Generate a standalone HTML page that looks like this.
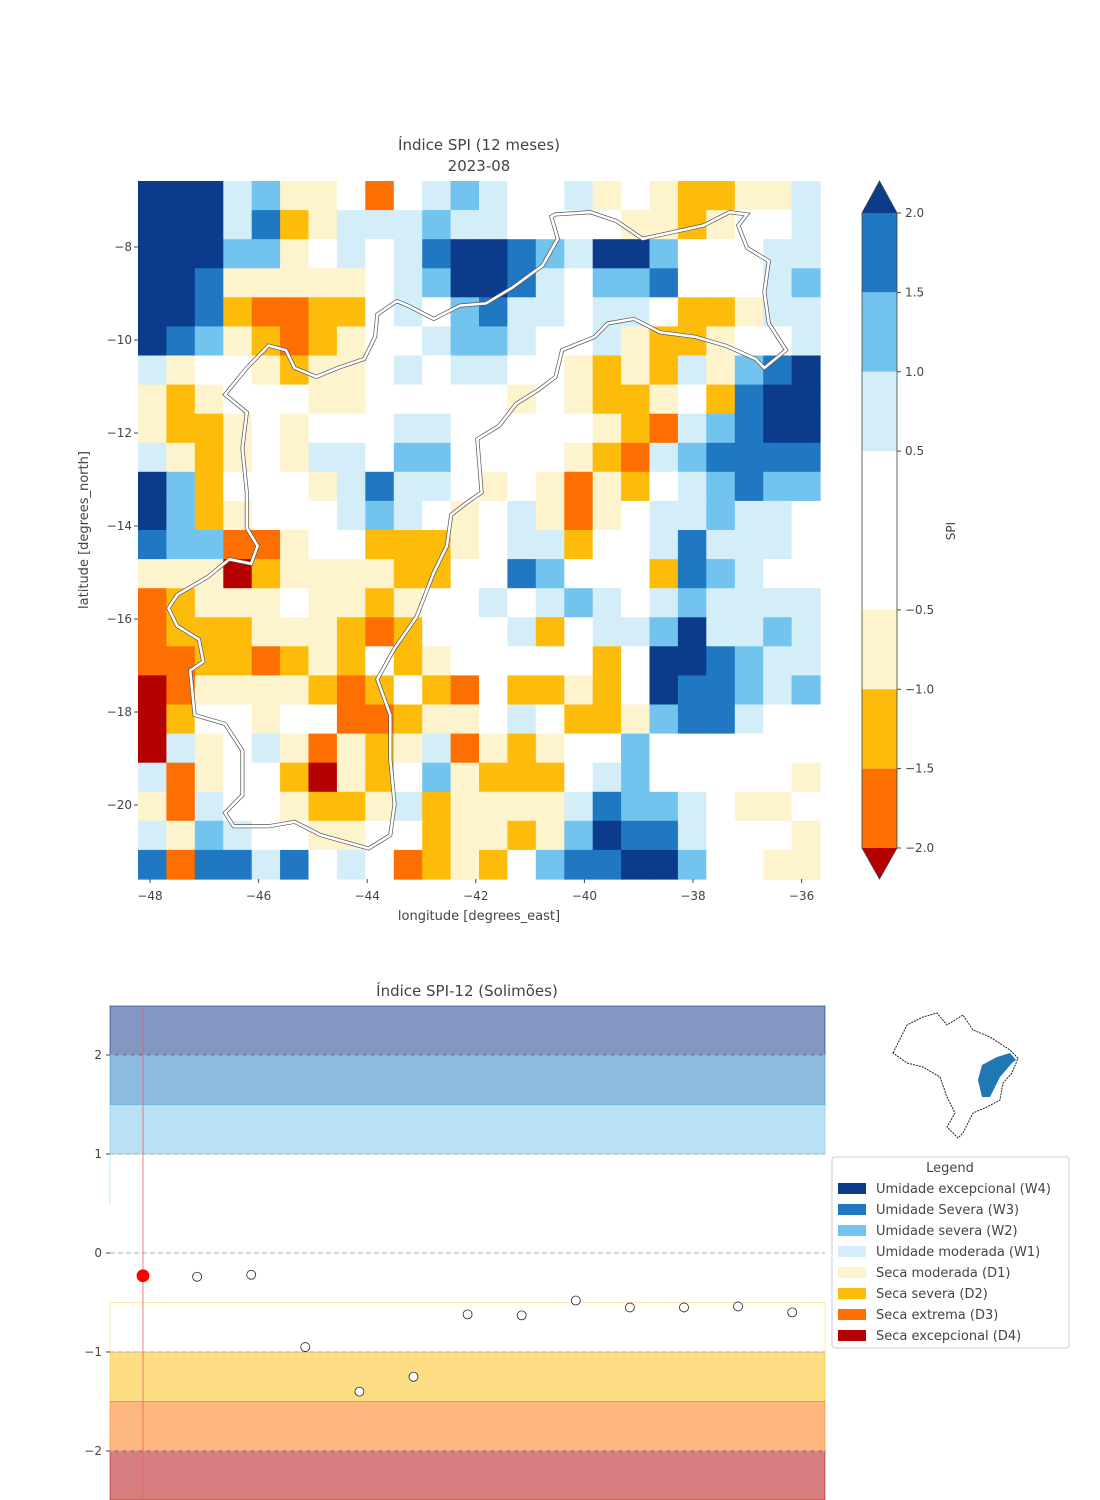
<!DOCTYPE html>
<html><head><meta charset="utf-8">
<style>
body{margin:0;background:#fff;width:1100px;height:1500px;overflow:hidden;font-family:"Liberation Sans","DejaVu Sans",sans-serif;}
svg{position:absolute;left:0;top:0}
text{fill:#444;font-family:"DejaVu Sans","Liberation Sans",sans-serif}
</style></head>
<body>
<svg id="chart" width="1100" height="1500" xmlns="http://www.w3.org/2000/svg">
<g id="mapg"></g>
<g id="cbar"></g>
<g id="ts"></g>
<g id="inset">
<polygon points="893,1053 907,1025 923,1017 937,1013 947,1025 963,1015 973,1030 990,1037 1010,1050 1018,1058 1012,1073 1003,1083 1000,1100 987,1107 973,1113 963,1133 958,1138 947,1127 955,1113 947,1097 940,1077 923,1067 907,1063" fill="#fff" stroke="#222" stroke-width="1" stroke-dasharray="2,1"/>
<polygon points="982,1065 997,1057 1010,1053 1016,1060 1012,1063 1000,1077 990,1097 982,1097 978,1080" fill="#1f78b4"/>
</g>
<g id="legend">
<rect x="832" y="1157" width="237" height="191" rx="3" fill="#fff" stroke="#ccc"/>
<text x="950" y="1172" text-anchor="middle" font-size="13">Legend</text>
</g>
</svg>
<script>
// ---- map data (SPI class per grid cell) ----
const lonTicks=[-48,-46,-44,-42,-40,-38,-36];
const latTicks=[-8,-10,-12,-14,-16,-18,-20];
const gridRows=[
"44412aa0c0121001a0abbaa1",
"44413ba1112110000aaba001",
"44422a010134432144200011",
"443aaaaa0124431022300012",
"443bccbb01023110110bba11",
"432abcba001221001abba001",
"1a00abaa0101100abab1a234",
"aba000aa00000a0abba0b344",
"abba0a0001100000abc12344",
"1aba0a110220000abc123333",
"42b000a13110a0acab012322",
"42ba0001210a01aca0112110",
"322cca00bbba011b00131110",
"aaadbaaaabb0032000b32100",
"cbaaa0aaba00101210121111",
"cbbbaaabcb0001b011241121",
"ccbbcbab0ba00000b0443211",
"dcaaaabcb0bc0bbab0433212",
"db00a00ccbaa010bba233100",
"d1a01acaba1caba002000000",
"1ca00bdab02abbb01200000a",
"ac100abba1baaaa132210aa0",
"1a2100aa00baaba24331000a",
"3c3313010cbab023344200aa"
];
// ---- time series data ----
const spiValues=[-0.23,-0.24,-0.22,-0.95,-1.40,-1.25,-0.62,-0.63,-0.48,-0.55,-0.55,-0.54,-0.60];
const spiTicks=[2,1,0,-1,-2];
const legendLabels=["Umidade excepcional (W4)","Umidade Severa (W3)","Umidade severa (W2)","Umidade moderada (W1)","Seca moderada (D1)","Seca severa (D2)","Seca extrema (D3)","Seca excepcional (D4)"];
const cbarTicks=[2.0,1.5,1.0,0.5,-0.5,-1.0,-1.5,-2.0];

const NS="http://www.w3.org/2000/svg";
function mk(tag,attrs,parent,txt){const e=document.createElementNS(NS,tag);for(const k in attrs)e.setAttribute(k,attrs[k]);if(txt!==undefined)e.textContent=txt;parent.appendChild(e);return e;}
const COL={"4":"#0c3b8c","3":"#1f78c1","2":"#72c3ee","1":"#d3eef9","0":"#ffffff","a":"#fdf3cd","b":"#fdbc0a","c":"#fd6f00","d":"#b40000"};
const legendColors=["#0c3b8c","#1f78c1","#72c3ee","#d3eef9","#fdf3cd","#fdbc0a","#fd6f00","#b40000"];

const mapL=138,mapR=820,mapT=181,mapB=879;
const lonX=v=>150+(v+48)*54.3;
const latY=v=>247+(-8-v)*46.5;
const mg=document.getElementById('mapg');
const NC=24,NR=gridRows.length;
const cw=(mapR-mapL)/NC,ch=(mapB-mapT)/NR;
gridRows.forEach((row,r)=>{
  for(let c=0;c<NC;c++){
    const k=row[c]||'0';
    const cell=mk('rect',{x:(mapL+c*cw).toFixed(1),y:(mapT+r*ch).toFixed(1),width:(cw+0.6).toFixed(1),height:(ch+0.6).toFixed(1),fill:COL[k]||'#fff'},mg);
    
    
  }
});
const bz=[[950,80],[965,130],[930,190],[860,240],[800,275],[740,280],[680,310],[620,280],[595,270],[550,300],[545,350],[520,400],[460,420],[410,440],[360,420],[340,380],[300,370],[250,420],[200,480],[250,520],[240,600],[250,700],[250,780],[275,820],[260,860],[210,850],[160,890],[90,930],[70,960],[90,1000],[140,1030],[150,1080],[120,1100],[130,1200],[200,1220],[240,1280],[240,1380],[200,1420],[220,1450],[300,1450],[360,1440],[420,1470],[530,1500],[580,1470],[590,1400],[580,1300],[580,1200],[550,1120],[590,1050],[640,980],[680,880],[710,820],[720,750],[760,720],[790,700],[780,580],[830,550],[870,500],[920,470],[960,440],[975,380],[1050,350],[1080,320],[1140,310],[1200,340],[1280,350],[1350,370],[1420,400],[1440,420],[1490,380],[1450,320],[1440,250],[1450,180],[1400,150],[1380,100],[1400,75],[1360,70],[1300,100],[1160,130],[1100,90],[1040,70],[960,75]];
const bpts=bz.map(p=>(138+p[0]*0.435).toFixed(1)+','+(181+p[1]*0.445).toFixed(1)).join(' ');
const b1=mk('polygon',{points:bpts,fill:'none',stroke:'#555','stroke-width':4},mg);


const b2=mk('polygon',{points:bpts,fill:'none',stroke:'#fff','stroke-width':2.6},mg);


let t=mk('text',{x:479,y:150,'text-anchor':'middle','font-size':15},mg,'Índice SPI (12 meses)');


t=mk('text',{x:479,y:171,'text-anchor':'middle','font-size':15},mg,'2023-08');


lonTicks.forEach(v=>{
  const x=lonX(v);
  mk('line',{x1:x,x2:x,y1:mapB,y2:mapB+4,stroke:'#444'},mg);
  const l=mk('text',{x:x,y:900,'text-anchor':'middle','font-size':12},mg,'\u2212'+Math.abs(v));
  
  
});
latTicks.forEach(v=>{
  const y=latY(v);
  mk('line',{x1:mapL-4,x2:mapL,y1:y,y2:y,stroke:'#444'},mg);
  const l=mk('text',{x:132,y:y+4,'text-anchor':'end','font-size':12},mg,'\u2212'+Math.abs(v));
  
  
});
t=mk('text',{x:479,y:920,'text-anchor':'middle','font-size':13},mg,'longitude [degrees_east]');


t=mk('text',{x:88,y:530,'text-anchor':'middle','font-size':13,transform:'rotate(-90 88 530)'},mg,'latitude [degrees_north]');



const cb=document.getElementById('cbar');
const cbY=v=>213+(2-v)*(848-213)/4;
const segs=[[2,1.5,'#1f78c1'],[1.5,1,'#72c3ee'],[1,0.5,'#d3eef9'],[0.5,-0.5,'#ffffff'],[-0.5,-1,'#fdf3cd'],[-1,-1.5,'#fdbc0a'],[-1.5,-2,'#fd6f00']];
segs.forEach(s=>{
  const r=mk('rect',{x:862,y:cbY(s[0]),width:35,height:cbY(s[1])-cbY(s[0]),fill:s[2]},cb);
  
  
});
mk('polygon',{points:'862,213 897,213 879.5,181',fill:'#0c3b8c'},cb);
mk('polygon',{points:'862,848 897,848 879.5,879',fill:'#b40000'},cb);
mk('polygon',{points:'879.5,181 897,213 897,848 879.5,879 862,848 862,213',fill:'none',stroke:'#444','stroke-width':0.8},cb);
cbarTicks.forEach(v=>{
  const y=cbY(v);
  mk('line',{x1:897,x2:901,y1:y,y2:y,stroke:'#444'},cb);
  const l=mk('text',{x:905,y:y+4,'font-size':12},cb,(v<0?'\u2212':'')+Math.abs(v).toFixed(1));
  
  
});
t=mk('text',{x:955,y:531,'text-anchor':'middle','font-size':12,transform:'rotate(-90 955 531)'},cb,'SPI');



const ts=document.getElementById('ts');
const tsL=110,tsR=825,tsT=1006,tsB=1500;
const sy=v=>1253-v*99;
const sx=i=>143+i*54.1;
const bands=[[2.5,2,'rgba(8,48,135,0.5)','rgba(8,48,135,0.6)'],[2,1.5,'rgba(31,120,190,0.5)','rgba(31,120,190,0.5)'],[1.5,1,'rgba(114,195,238,0.5)','rgba(114,195,238,0.5)'],[-0.5,-1,'rgba(255,255,255,0)','rgba(253,220,120,0.6)'],[-1,-1.5,'rgba(252,190,10,0.5)','rgba(252,190,10,0.5)'],[-1.5,-2,'rgba(253,111,0,0.5)','rgba(253,111,0,0.5)'],[-2,-2.5,'rgba(175,0,0,0.5)','rgba(175,0,0,0.5)']];
bands.forEach(b=>{
  const y1=Math.max(sy(b[0]),tsT),y2=Math.min(sy(b[1]),tsB);
  const r=mk('rect',{x:tsL,y:y1,width:tsR-tsL,height:y2-y1,fill:b[2],stroke:b[3],'stroke-width':1},ts);
  
  
});
mk('line',{x1:tsL,x2:tsL,y1:sy(1),y2:sy(0.5),stroke:'#c6e4f5'},ts);
spiTicks.forEach(v=>{
  const y=sy(v);
  mk('line',{x1:tsL,x2:tsR,y1:y,y2:y,stroke:'#aaa','stroke-dasharray':'5,3'},ts);
  mk('line',{x1:tsL-4,x2:tsL,y1:y,y2:y,stroke:'#444'},ts);
  const l=mk('text',{x:102,y:y+4,'text-anchor':'end','font-size':12},ts,(v<0?'\u2212':'')+Math.abs(v));
  
  
});
mk('line',{x1:sx(0),x2:sx(0),y1:tsT,y2:tsB,stroke:'rgba(230,100,100,0.4)','stroke-width':2},ts);
spiValues.forEach((v,i)=>{
  const c=mk('circle',{cx:sx(i),cy:sy(v),r:i===0?6:4.5,fill:i===0?'#ff0000':'#fff',stroke:i===0?'#ff0000':'#222','stroke-width':0.8},ts);
  
  
});
t=mk('text',{x:467,y:996,'text-anchor':'middle','font-size':15},ts,'Índice SPI-12 (Solimões)');



const lg=document.getElementById('legend');
legendLabels.forEach((lab,i)=>{
  const y=1183+i*21;
  const sw=mk('rect',{x:838,y:y,width:28,height:11,fill:legendColors[i]},lg);
  
  
  const tx=mk('text',{x:876,y:y+10,'font-size':13},lg,lab);
  
  
});
</script>
</body></html>
